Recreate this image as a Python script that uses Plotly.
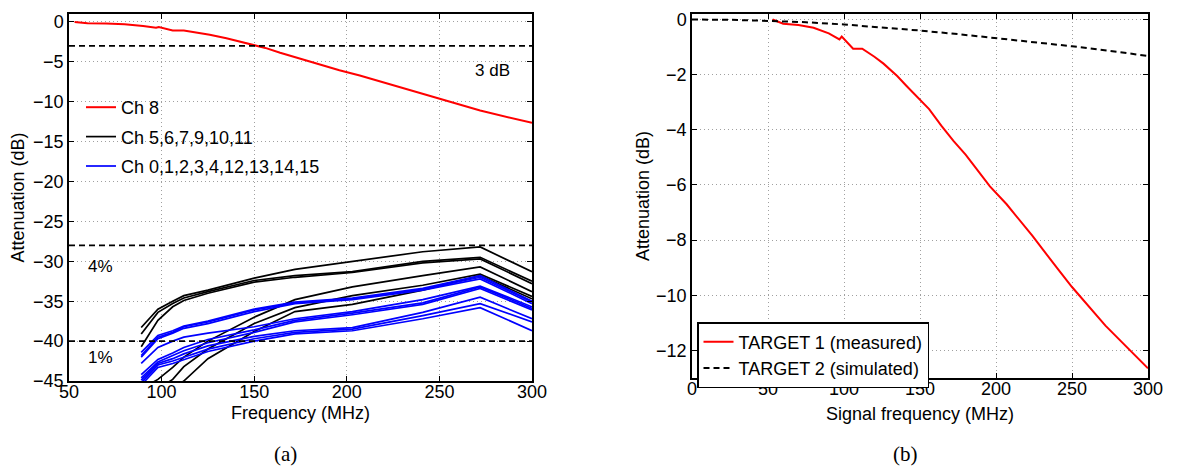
import plotly.graph_objects as go

# ---------------- data ----------------
# Ch 8 / TARGET 1 (measured) attenuation curve
ch8_freq = [53, 60, 70, 80, 90, 97, 98.5, 106, 112, 120, 126, 135, 141, 150, 156,
            164, 172, 180, 196, 207, 224, 240, 250, 272, 300]
ch8_att = [0.0, -0.15, -0.2, -0.3, -0.5, -0.72, -0.62, -1.06, -1.06, -1.35, -1.6,
           -2.05, -2.4, -2.9, -3.25, -3.85, -4.4, -4.9, -6.05, -6.7, -7.85, -9.0,
           -9.7, -11.1, -12.65]

# TARGET 2 (simulated)
sim_freq = [0, 25, 50, 75, 100, 125, 150, 175, 200, 225, 250, 275, 300]
sim_att = [0.0, -0.01, -0.05, -0.1, -0.18, -0.28, -0.4, -0.53, -0.67, -0.82, -0.97,
           -1.14, -1.32]

# crosstalk channels
xt_freq = [89, 98, 106, 112, 125, 150, 172, 203, 241, 272, 300]

black_ch = [
    [-38.3, -36.0, -35.0, -34.3, -33.6, -32.1, -31.0, -30.0, -28.8, -28.2, -31.3],
    [-39.1, -36.4, -35.3, -34.6, -33.8, -32.4, -31.8, -31.3, -30.0, -29.5, -32.5],
    [-40.7, -37.4, -35.7, -34.9, -34.0, -32.6, -32.0, -31.4, -30.2, -29.7, -32.8],
    [-46.0, -44.8, -43.3, -42.0, -40.0, -37.0, -34.8, -33.2, -31.8, -30.7, -33.8],
    [-47.0, -46.0, -44.8, -43.2, -41.0, -37.8, -35.8, -34.3, -33.0, -31.6, -34.4],
    [-48.0, -47.0, -46.0, -45.0, -42.2, -38.8, -36.3, -35.4, -33.6, -31.8, -34.7],
]

blue_ch = [
    [-41.4, -39.3, -38.7, -38.1, -37.5, -36.0, -35.1, -34.6, -33.4, -31.8, -35.0],
    [-41.8, -39.5, -38.9, -38.2, -37.6, -36.1, -35.2, -34.7, -33.5, -32.0, -35.1],
    [-42.0, -39.7, -39.0, -38.4, -37.8, -36.3, -35.3, -34.8, -33.6, -32.2, -35.3],
    [-42.8, -40.8, -40.0, -39.5, -39.0, -38.2, -37.2, -36.3, -34.8, -33.1, -35.7],
    [-44.2, -42.3, -41.5, -40.8, -39.8, -38.6, -37.4, -36.5, -35.2, -33.2, -35.9],
    [-44.6, -42.6, -41.8, -41.2, -40.2, -38.9, -37.6, -36.7, -35.4, -33.4, -36.1],
    [-44.9, -42.8, -42.2, -41.6, -40.6, -39.4, -38.7, -38.3, -36.4, -34.5, -37.2],
    [-45.2, -43.0, -42.5, -42.0, -41.0, -39.7, -38.9, -38.5, -36.8, -35.3, -37.6],
    [-45.5, -43.3, -42.8, -42.3, -41.3, -40.0, -39.1, -38.7, -37.2, -35.8, -38.7],
]

ref_levels = [-3, -28, -40]
ref_labels = ["3 dB", "4%", "1%"]

left_xticks = [50, 100, 150, 200, 250, 300]
left_yticks = [0, -5, -10, -15, -20, -25, -30, -35, -40, -45]
right_xticks = [0, 50, 100, 150, 200, 250, 300]
right_yticks = [0, -2, -4, -6, -8, -10, -12]

# ---------------- figure ----------------
W, H = 1177, 469
FONT = "Liberation Sans, Arial, Helvetica, sans-serif"
FS = 18

def px_x(p):
    return p / W

def px_y(p):
    return 1 - p / H

fig = go.Figure()

# left: Ch 8
fig.add_trace(go.Scatter(x=ch8_freq, y=ch8_att, mode="lines", name="Ch 8",
                         line=dict(color="#ff0000", width=2),
                         xaxis="x", yaxis="y", legend="legend", legendgroup="a"))
for i, ys in enumerate(black_ch):
    fig.add_trace(go.Scatter(x=xt_freq, y=ys, mode="lines", name="Ch 5,6,7,9,10,11",
                             line=dict(color="black", width=1.7),
                             showlegend=(i == 0), legendgroup="b",
                             xaxis="x", yaxis="y", legend="legend"))
for i, ys in enumerate(blue_ch):
    fig.add_trace(go.Scatter(x=xt_freq, y=ys, mode="lines",
                             name="Ch 0,1,2,3,4,12,13,14,15",
                             line=dict(color="#0000ff", width=1.7),
                             showlegend=(i == 0), legendgroup="c",
                             xaxis="x", yaxis="y", legend="legend"))
for lvl in ref_levels:
    fig.add_trace(go.Scatter(x=[left_xticks[0], left_xticks[-1]], y=[lvl, lvl],
                             mode="lines", showlegend=False,
                             line=dict(color="black", width=1.7, dash="6px,4px"),
                             xaxis="x", yaxis="y"))

# right
fig.add_trace(go.Scatter(x=ch8_freq, y=ch8_att, mode="lines",
                         name="TARGET 1 (measured)",
                         line=dict(color="#ff0000", width=2),
                         xaxis="x2", yaxis="y2", legend="legend2"))
fig.add_trace(go.Scatter(x=sim_freq, y=sim_att, mode="lines",
                         name="TARGET 2 (simulated)",
                         line=dict(color="black", width=2, dash="6px,4px"),
                         xaxis="x2", yaxis="y2", legend="legend2"))

axis_common = dict(
    showline=True, linecolor="black", linewidth=1.5, mirror="ticks",
    ticks="inside", ticklen=5, tickwidth=1, tickcolor="black",
    showgrid=True, gridcolor="#a0a0a0", gridwidth=1, griddash="1px,3px",
    zeroline=False, automargin=False,
    tickfont=dict(family=FONT, size=FS, color="black"),
    title_font=dict(family=FONT, size=FS, color="black"),
)

fig.update_layout(
    width=W, height=H,
    margin=dict(l=0, r=0, t=0, b=0, autoexpand=False),
    paper_bgcolor="white", plot_bgcolor="white",
    font=dict(family=FONT, size=FS, color="black"),
    xaxis=dict(axis_common, domain=[px_x(69), px_x(532)], range=[50, 300],
               tickvals=left_xticks, anchor="y", ticklabelstandoff=-6),
    yaxis=dict(axis_common, domain=[px_y(381), px_y(14)], range=[-45, 1],
               tickvals=left_yticks, anchor="x",
               title=dict(text="Attenuation (dB)", standoff=4)),
    xaxis2=dict(axis_common, domain=[px_x(692), px_x(1148)], range=[0, 300],
                tickvals=right_xticks, anchor="y2", ticklabelstandoff=-6),
    yaxis2=dict(axis_common, domain=[px_y(378), px_y(14)], range=[-13, 0.2],
                tickvals=right_yticks, anchor="x2",
                title=dict(text="Attenuation (dB)", standoff=2)),
    legend=dict(x=px_x(81), y=px_y(89), xanchor="left", yanchor="top",
                bgcolor="rgba(0,0,0,0)", borderwidth=0,
                font=dict(family=FONT, size=FS, color="black"),
                traceorder="grouped", tracegroupgap=3, itemwidth=30),
    legend2=dict(x=px_x(697), y=px_y(322), xanchor="left", yanchor="top",
                 bgcolor="white", bordercolor="black", borderwidth=1.5,
                 font=dict(family=FONT, size=FS, color="black"),
                 tracegroupgap=0, itemwidth=30),
    showlegend=True,
)

SERIF = "Liberation Serif, DejaVu Serif, serif"

def note(text, xp, yp, family=FONT, size=17):
    fig.add_annotation(x=px_x(xp), y=px_y(yp), xref="paper", yref="paper",
                       xanchor="center", yanchor="middle",
                       text=text, showarrow=False,
                       font=dict(family=family, size=size, color="black"))

note(ref_labels[0], 492, 70)
note(ref_labels[1], 100, 266)
note(ref_labels[2], 100, 357)
note("Frequency (MHz)", 300, 413, size=FS)
note("Signal frequency (MHz)", 920, 414, size=FS)
note("(a)", 285, 454, family=SERIF, size=21)
note("(b)", 905, 454, family=SERIF, size=21)

fig.write_html("out.html")
